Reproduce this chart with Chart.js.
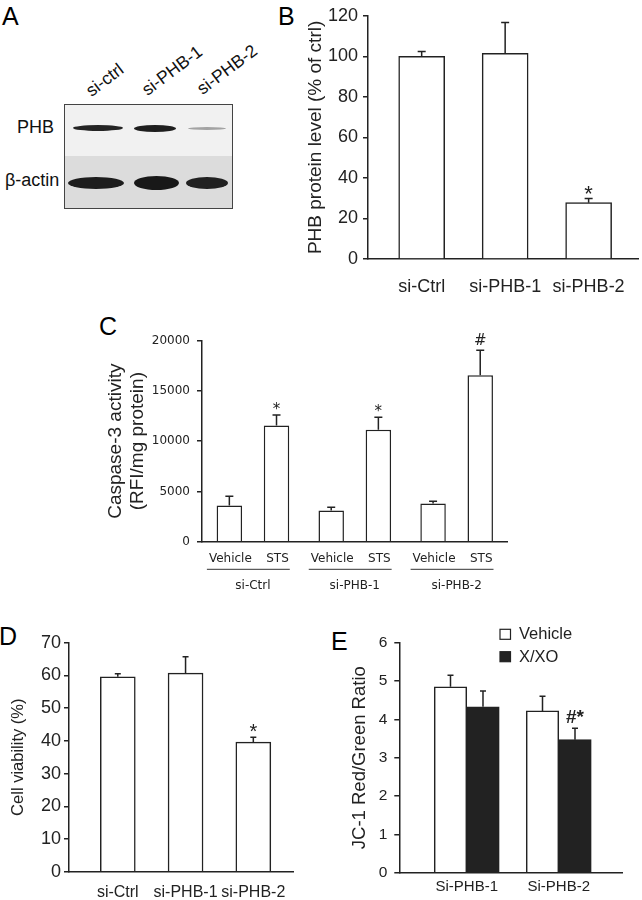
<!DOCTYPE html>
<html>
<head>
<meta charset="utf-8">
<script src="https://cdn.jsdelivr.net/npm/chart.js@4.4.0/dist/chart.umd.min.js"></script>
<style>
  body { margin: 0; background: #fff; width: 642px; height: 900px; position: relative; overflow: hidden;
         font-family: 'Liberation Sans', Arial, sans-serif; color: #111; }
  canvas { position: absolute; }
  .txt { position: absolute; line-height: 1; white-space: nowrap; }
  .letter { font-size: 25px; color: #000; }
  #blot { position: absolute; left: 64px; top: 104px; width: 167px; height: 103px; border: 1px solid #444; overflow: hidden; }
  .band { position: absolute; border-radius: 50%; filter: blur(0.7px); }
</style>
</head>
<body>

<div class="txt letter" style="left:2px;top:4px">A</div>
<div class="txt letter" style="left:278px;top:4px">B</div>
<div class="txt letter" style="left:99px;top:314px">C</div>
<div class="txt letter" style="left:-1px;top:624px">D</div>
<div class="txt letter" style="left:331px;top:629px">E</div>

<div id="blot">
  <div style="position:absolute;left:0;top:0;width:100%;height:51px;background:#f1f1f1"></div>
  <div style="position:absolute;left:0;top:51px;width:100%;height:52px;background:#dcdcdc"></div>
</div>
<div class="txt" style="left:17px;top:118px;font-size:18px">PHB</div>
<div class="txt" style="left:5px;top:171px;font-size:18px">β-actin</div>

<canvas id="chartB" width="342" height="300" style="left:300px;top:0px"></canvas>
<canvas id="chartC" width="440" height="300" style="left:80px;top:300px"></canvas>
<canvas id="chartD" width="320" height="280" style="left:0px;top:620px"></canvas>
<canvas id="chartE" width="322" height="290" style="left:320px;top:610px"></canvas>

<script>
// ---- data ----
// A: western blot, relative band darkness per lane
const blotLanes = ['si-ctrl', 'si-PHB-1', 'si-PHB-2'];
const phbBand = [0.92, 0.95, 0.35];
const actinBand = [0.95, 0.97, 0.93];

// B: PHB protein level (% of ctrl)
const phbGroups = ['si-Ctrl', 'si-PHB-1', 'si-PHB-2'];
const phbLevel = [100, 101.5, 27.8];
const phbErr = [2.4, 15.2, 2.0];
const phbMarks = ['', '', '*'];
const phbTicks = [0, 20, 40, 60, 80, 100, 120];

// C: caspase-3 activity (RFI/mg protein)
const casGroups = ['si-Ctrl', 'si-PHB-1', 'si-PHB-2'];
const casVehicle = [3600, 3100, 3800];
const casVehicleErr = [930, 340, 230];
const casSTS = [11550, 11150, 16550];
const casSTSErr = [1060, 1230, 2490];
const casSTSMarks = ['*', '*', '#'];
const casTicks = [0, 5000, 10000, 15000, 20000];

// D: cell viability (%)
const viaGroups = ['si-Ctrl', 'si-PHB-1', 'si-PHB-2'];
const viaValues = [59.6, 60.7, 39.6];
const viaErr = [0.9, 5.0, 1.5];
const viaMarks = ['', '', '*'];
const viaTicks = [0, 10, 20, 30, 40, 50, 60, 70];

// E: JC-1 red/green ratio
const jcGroups = ['Si-PHB-1', 'Si-PHB-2'];
const jcVehicle = [4.85, 4.22];
const jcVehicleErr = [0.30, 0.38];
const jcXXO = [4.33, 3.47];
const jcXXOErr = [0.41, 0.30];
const jcXXOMarks = ['', '#*'];
const jcTicks = [0, 1, 2, 3, 4, 5, 6];

const ink = '#222';
const arial = "'Liberation Sans', Arial, sans-serif";
const verdana = "'DejaVu Sans', Verdana, sans-serif";

// ---- blot (panel A) ----
const blot = document.getElementById('blot');
const phbLanePos = [[8, 50, 6], [69, 42, 7], [123, 38, 3]];     // left, width, height
const actinLanePos = [[3, 56, 12], [69, 45, 14], [121, 42, 12]];
function addBand(pos, rowY, dark) {
  const d = document.createElement('div');
  d.className = 'band';
  d.style.left = pos[0] + 'px';
  d.style.width = pos[1] + 'px';
  d.style.top = (rowY - pos[2] / 2) + 'px';
  d.style.height = pos[2] + 'px';
  d.style.background = 'rgba(18,18,18,' + dark + ')';
  blot.appendChild(d);
}
phbBand.forEach((v, i) => addBand(phbLanePos[i], 23.3, v));
actinBand.forEach((v, i) => addBand(actinLanePos[i], 77.7, v));
const laneStart = [[92, 98], [148, 97], [203, 96]];
blotLanes.forEach((name, i) => {
  const d = document.createElement('div');
  d.className = 'txt';
  d.textContent = name;
  d.style.fontSize = '17.5px';
  d.style.left = laneStart[i][0] + 'px';
  d.style.top = (laneStart[i][1] - 14.8) + 'px';
  d.style.transformOrigin = '0 14.8px';
  d.style.transform = 'rotate(-37deg)';
  document.body.appendChild(d);
});

// ---- plugins ----
// error bars (upper only) + significance marks, from dataset.errors / dataset.marks
const errorBars = {
  id: 'errorBars',
  afterDatasetsDraw(chart, args, opts) {
    const ctx = chart.ctx, y = chart.scales.y;
    chart.data.datasets.forEach((ds, i) => {
      if (!ds.errors) return;
      chart.getDatasetMeta(i).data.forEach((bar, j) => {
        const raw = ds.data[j];
        const v = typeof raw === 'object' ? raw.y : raw;
        const top = y.getPixelForValue(v + ds.errors[j]);
        ctx.save();
        ctx.strokeStyle = ink;
        ctx.lineWidth = 1.5;
        ctx.beginPath();
        ctx.moveTo(bar.x, bar.y);
        ctx.lineTo(bar.x, top);
        ctx.moveTo(bar.x - opts.cap / 2, top);
        ctx.lineTo(bar.x + opts.cap / 2, top);
        ctx.stroke();
        if (ds.marks && ds.marks[j]) {
          ctx.font = opts.markFont;
          ctx.fillStyle = ink;
          ctx.textAlign = 'center';
          ctx.textBaseline = 'alphabetic';
          const m = ctx.measureText(ds.marks[j]);
          ctx.fillText(ds.marks[j], bar.x, top - 5 - m.actualBoundingBoxDescent);
        }
        ctx.restore();
      });
    });
  }
};

// per-bar labels (Vehicle / STS) with a line under each group
const subLabels = {
  id: 'subLabels',
  afterDraw(chart) {
    const ctx = chart.ctx, base = chart.chartArea.bottom;
    ctx.save();
    ctx.font = '12px ' + verdana;
    ctx.fillStyle = ink;
    ctx.strokeStyle = '#333';
    ctx.lineWidth = 1;
    ctx.textAlign = 'center';
    ctx.textBaseline = 'middle';
    chart.data.labels.forEach((g, j) => {
      let left = Infinity, right = -Infinity;
      chart.data.datasets.forEach((ds, i) => {
        const el = chart.getDatasetMeta(i).data[j];
        ctx.fillText(ds.label, el.x + 1, base + 17.6);
        const w = ctx.measureText(ds.label).width;
        left = Math.min(left, el.x + 1 - w / 2);
        right = Math.max(right, el.x + 1 + w / 2);
      });
      ctx.beginPath();
      ctx.moveTo(left - 2, base + 27.6);
      ctx.lineTo(right + 1, base + 27.6);
      ctx.stroke();
    });
    ctx.restore();
  }
};

// small box legend in the top right of panel E
const boxLegend = {
  id: 'boxLegend',
  afterDraw(chart, args, opts) {
    const ctx = chart.ctx;
    ctx.save();
    ctx.font = '16.5px ' + arial;
    ctx.textBaseline = 'middle';
    ctx.lineWidth = 1.2;
    chart.data.datasets.forEach((ds, i) => {
      const y = opts.y + i * 22.4;
      ctx.fillStyle = ds.backgroundColor;
      ctx.fillRect(opts.x, y, 10.5, 10);
      ctx.strokeStyle = ink;
      ctx.strokeRect(opts.x, y, 10.5, 10);
      ctx.fillStyle = ink;
      ctx.fillText(ds.label, opts.x + 19, y + 5.5);
    });
    ctx.restore();
  }
};

function yScale(ticks, width, size, family, tickPad, title, titleFont, titlePad) {
  return {
    min: ticks[0], max: ticks[ticks.length - 1],
    afterBuildTicks: s => { s.ticks = ticks.map(v => ({ value: v })); },
    ticks: { callback: v => String(v), padding: tickPad, color: ink, font: { family: family, size: size } },
    grid: { drawOnChartArea: false, tickLength: 5, color: ink, lineWidth: 1.5 },
    border: { color: ink, width: 1.5 },
    title: { display: true, text: title, color: ink, font: titleFont, padding: { top: titlePad } },
    afterFit: s => { s.width = width; }
  };
}

function xLinear(groups, min, max, height, size, pad) {
  return {
    type: 'linear', min: min, max: max, offset: false, bounds: 'data',
    afterBuildTicks: s => { s.ticks = groups.map((g, i) => ({ value: i + 1 })); },
    ticks: { callback: v => groups[v - 1], autoSkip: false, maxRotation: 0, padding: pad,
             color: ink, font: { family: arial, size: size } },
    grid: { display: false, drawTicks: false, offset: false },
    border: { color: ink, width: 1.5 },
    afterFit: s => { s.height = height; }
  };
}

const common = { responsive: false, animation: false };

// ---- B ----
new Chart(document.getElementById('chartB'), {
  type: 'bar',
  data: {
    datasets: [{
      label: 'PHB',
      data: phbLevel.map((v, i) => ({ x: i + 1, y: v })),
      errors: phbErr, marks: phbMarks,
      backgroundColor: '#fff', borderColor: ink, borderWidth: 1.5, barThickness: 46
    }]
  },
  options: {
    ...common,
    layout: { padding: { top: 12, right: 2, left: 0, bottom: 0 } },
    plugins: { legend: { display: false }, tooltip: { enabled: false },
               errorBars: { cap: 8, markFont: '22px ' + arial } },
    scales: {
      x: xLinear(phbGroups, 0.357, 3.595, 41, 18, 17),
      y: yScale(phbTicks, 68, 18, arial, 5, 'PHB protein level (% of ctrl)', { family: arial, size: 19 }, 4)
    }
  },
  plugins: [errorBars]
});

// ---- C ----
new Chart(document.getElementById('chartC'), {
  type: 'bar',
  data: {
    labels: casGroups,
    datasets: [
      { label: 'Vehicle', data: casVehicle, errors: casVehicleErr,
        backgroundColor: '#fff', borderColor: ink, borderWidth: 1.5,
        categoryPercentage: 0.926, barPercentage: 0.54 },
      { label: 'STS', data: casSTS, errors: casSTSErr, marks: casSTSMarks,
        backgroundColor: '#fff', borderColor: ink, borderWidth: 1.5,
        categoryPercentage: 0.926, barPercentage: 0.54 }
    ]
  },
  options: {
    ...common,
    layout: { padding: { top: 40.7, right: 7, left: 0, bottom: 0 } },
    plugins: { legend: { display: false }, tooltip: { enabled: false },
               errorBars: { cap: 8, markFont: '15px ' + verdana } },
    scales: {
      x: {
        ticks: { padding: 37, color: ink, font: { family: verdana, size: 12 } },
        grid: { display: false, drawTicks: false },
        border: { color: ink, width: 1.5 },
        afterFit: s => { s.height = 58.3; }
      },
      y: yScale(casTicks, 122, 12, verdana, 7, ['Caspase-3 activity', '(RFI/mg protein)'],
                { family: arial, size: 19, lineHeight: 1.15 }, 24.8)
    }
  },
  plugins: [errorBars, subLabels]
});

// ---- D ----
new Chart(document.getElementById('chartD'), {
  type: 'bar',
  data: {
    datasets: [{
      label: 'Viability',
      data: viaValues.map((v, i) => ({ x: i + 1, y: v })),
      errors: viaErr, marks: viaMarks,
      backgroundColor: '#fff', borderColor: ink, borderWidth: 1.5, barThickness: 35
    }]
  },
  options: {
    ...common,
    layout: { padding: { top: 22.7, right: 26.7, left: 0, bottom: 0 } },
    plugins: { legend: { display: false }, tooltip: { enabled: false },
               errorBars: { cap: 6, markFont: '20px ' + arial } },
    scales: {
      x: xLinear(viaGroups, 0.28, 3.59, 28.3, 16, 11.7),
      y: yScale(viaTicks, 69, 18, arial, 3, 'Cell viability (%)', { family: arial, size: 16.5 }, 9)
    }
  },
  plugins: [errorBars]
});

// ---- E ----
new Chart(document.getElementById('chartE'), {
  type: 'bar',
  data: {
    datasets: [
      { label: 'Vehicle', data: jcVehicle.map((v, i) => ({ x: i + 1, y: v })), errors: jcVehicleErr,
        backgroundColor: '#fff', borderColor: ink, borderWidth: 1.5, barThickness: 32.5 },
      { label: 'X/XO', data: jcXXO.map((v, i) => ({ x: i + 1, y: v })), errors: jcXXOErr, marks: jcXXOMarks,
        backgroundColor: '#222', borderColor: ink, borderWidth: 1.5, barThickness: 32.5 }
    ]
  },
  options: {
    ...common,
    layout: { padding: { top: 32.7, right: 19.3, left: 0, bottom: 0 } },
    plugins: { legend: { display: false }, tooltip: { enabled: false },
               errorBars: { cap: 6, markFont: 'bold 19px ' + arial },
               boxLegend: { x: 180, y: 19.3 } },
    scales: {
      x: xLinear(jcGroups, 0.267, 2.695, 27.3, 15, 5.4),
      y: yScale(jcTicks, 79.3, 15.5, arial, 7, 'JC-1 Red/Green Ratio', { family: arial, size: 18.5 }, 28.9)
    }
  },
  plugins: [errorBars, boxLegend]
});
</script>
</body>
</html>
